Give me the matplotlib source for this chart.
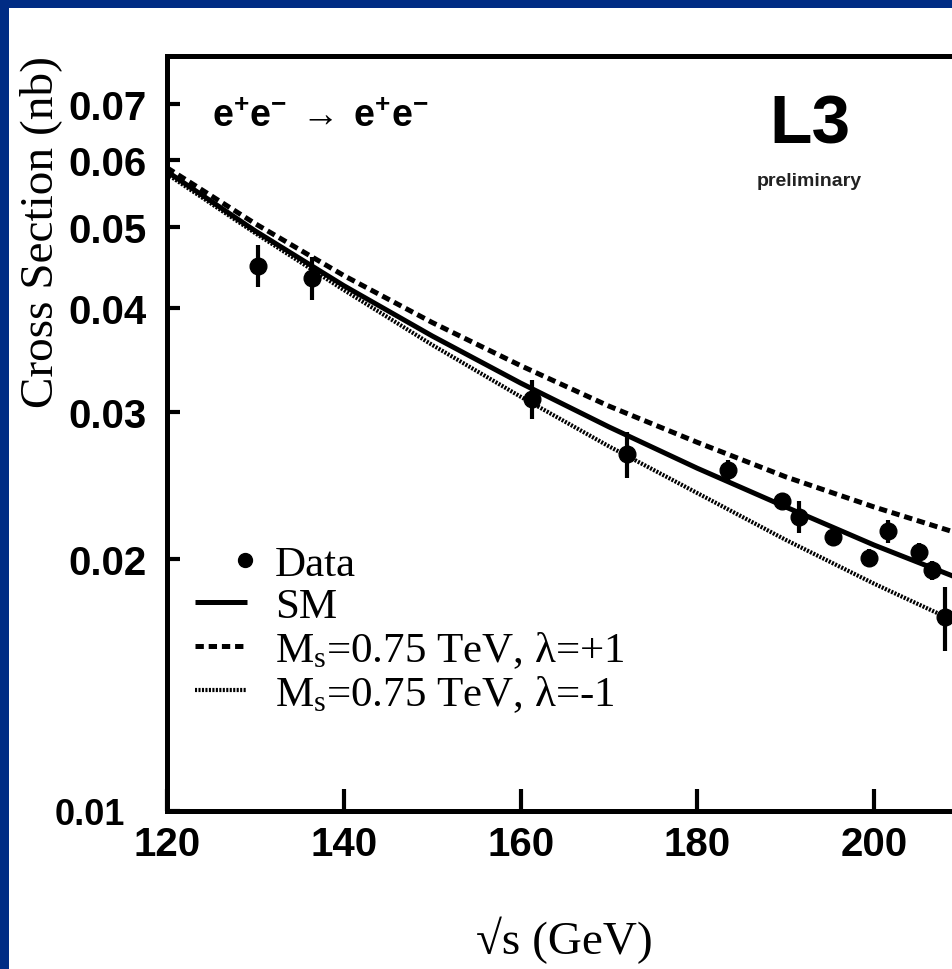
import numpy as np
import matplotlib
matplotlib.use("Agg")
import matplotlib.pyplot as plt
from matplotlib.patches import Rectangle
from matplotlib.legend_handler import HandlerLine2D
from matplotlib.ticker import FixedLocator, NullLocator, FixedFormatter

plt.rcParams['lines.scale_dashes'] = False
plt.rcParams['mathtext.fontset'] = 'custom'
plt.rcParams['mathtext.rm'] = 'Liberation Serif'
plt.rcParams['mathtext.it'] = 'Liberation Serif:italic'
plt.rcParams['mathtext.bf'] = 'Liberation Serif:bold'
plt.rcParams['mathtext.sf'] = 'Liberation Sans:bold'

# ---------------- data ----------------
data_sqrt_s = [130.3, 136.4, 161.3, 172.0, 183.5, 189.6, 191.5, 195.3, 199.4, 201.6, 205.1, 206.5, 208.0]
data_xsec   = [0.0449, 0.0434, 0.0311, 0.0267, 0.0256, 0.0235, 0.0225, 0.02125, 0.0201, 0.0216, 0.0204, 0.0194, 0.01705]
data_err    = [0.0026, 0.0026, 0.0017, 0.0017, 0.0007, 0.0005, 0.0010, 0.0005, 0.0005, 0.0007, 0.0005, 0.0005, 0.0015]

curve_sqrt_s = [120, 130, 140, 150, 160, 170, 180, 190, 200, 210]
sm_xsec      = [0.0582, 0.0494, 0.0425, 0.0370, 0.0325, 0.0288, 0.0257, 0.0231, 0.0208, 0.0189]
lam_plus     = [0.0588, 0.0504, 0.0437, 0.0384, 0.0341, 0.0305, 0.0276, 0.0251, 0.0231, 0.0214]
lam_minus    = [0.0578, 0.0491, 0.0420, 0.0361, 0.0313, 0.0273, 0.0240, 0.0211, 0.0187, 0.0167]

x_ticks = [120, 140, 160, 180, 200]
y_ticks = [0.01, 0.02, 0.03, 0.04, 0.05, 0.06, 0.07]
y_tick_labels = ['0.01', '0.02', '0.03', '0.04', '0.05', '0.06', '0.07']

labels = ['Data', 'SM', r'M$_{\mathrm{s}}$=0.75 TeV, λ=+1', r'M$_{\mathrm{s}}$=0.75 TeV, λ=-1']

# ---------------- figure ----------------
W, H = 953, 970
fig = plt.figure(figsize=(W / 100, H / 100), dpi=100, facecolor='#002C84')
fig.add_artist(Rectangle((9 / W, 0), 1, 1 - 9 / H, transform=fig.transFigure,
                         facecolor='white', edgecolor='none', zorder=-10))

xmin, xmax = 120, 210
px_per_gev = 8.84
ax_left, ax_top, ax_bottom = 167, 57, 812
aw = (xmax - xmin) * px_per_gev
ah = ax_bottom - ax_top
ax = fig.add_axes([ax_left / W, 1 - ax_bottom / H, aw / W, ah / H])
ax.set_facecolor('white')

ax.set_yscale('log')
ax.set_xlim(xmin, xmax)
ax.set_ylim(0.01, 0.08)

ax.plot(curve_sqrt_s, sm_xsec, color='black', lw=3.6, solid_capstyle='butt')
ax.plot(curve_sqrt_s, lam_plus, color='black', lw=3.6, dashes=(6, 3.5))
ax.plot(curve_sqrt_s, lam_minus, color='black', lw=3.0, dashes=(1.5, 1.0))
ax.errorbar(data_sqrt_s, data_xsec, yerr=data_err, fmt='o', color='black',
            ms=12, elinewidth=3, capsize=0, zorder=5)

# axes styling
for sp in ax.spines.values():
    sp.set_linewidth(3.6)
ax.xaxis.set_major_locator(FixedLocator(x_ticks))
ax.xaxis.set_minor_locator(NullLocator())
ax.yaxis.set_major_locator(FixedLocator(y_ticks))
ax.yaxis.set_major_formatter(FixedFormatter(y_tick_labels))
ax.yaxis.set_minor_locator(NullLocator())
ax.tick_params(axis='x', direction='in', length=16, width=3, pad=10, top=False,
               labelsize=29)
ax.tick_params(axis='y', direction='in', length=9, width=3, pad=15, right=False,
               labelsize=29)
for lab in ax.get_xticklabels() + ax.get_yticklabels():
    lab.set_fontfamily('Liberation Sans')
    lab.set_fontweight('bold')
ax.yaxis.get_major_ticks()[0].set_pad(30)
ax.get_yticklabels()[0].set_fontsize(26)

ax.set_xlabel('√s (GeV)', fontfamily='Liberation Serif', fontsize=34, va='center')
ax.xaxis.set_label_coords(0.5, (ax_bottom - 940) / ah)
ax.set_ylabel('Cross Section (nb)', fontfamily='Liberation Serif', fontsize=34, va='center')
ax.yaxis.set_label_coords((41 - ax_left) / aw, (ax_bottom - 232) / ah)

# annotations
ax.text((212 - ax_left) / aw, (ax_bottom - 127) / ah,
        r'$\mathsf{e^{+}e^{-}}\ \rightarrow\ \mathsf{e^{+}e^{-}}$',
        transform=ax.transAxes, fontsize=27, ha='left', va='baseline')
ax.text((810 - ax_left) / aw, (ax_bottom - 125) / ah, 'L3', transform=ax.transAxes,
        fontsize=50, fontfamily='Liberation Sans', fontweight='bold', ha='center', va='center')
ax.text((809 - ax_left) / aw, (ax_bottom - 181) / ah, 'preliminary', transform=ax.transAxes,
        fontsize=14, fontfamily='Liberation Sans', fontweight='bold', ha='center', va='center',
        color='#222222')

# legend
class RightMarker(HandlerLine2D):
    def get_xdata(self, legend, xdescent, ydescent, width, height, fontsize):
        xm = -xdescent + width * 0.96
        return np.array([xm, xm]), np.array([xm])

h_lines = ax.get_lines()
data_handle = plt.Line2D([], [], ls='none', marker='o', color='black', ms=10)
handles = [data_handle, h_lines[0], h_lines[1], h_lines[2]]
leg = ax.legend(handles, labels, loc='upper left',
                bbox_to_anchor=((195 - ax_left) / aw, (ax_bottom - 546) / ah),
                frameon=False, borderpad=0, borderaxespad=0, handlelength=1.21,
                handletextpad=0.65, labelspacing=0.07,
                prop={'family': 'Liberation Serif', 'size': 31},
                handler_map={data_handle: RightMarker(numpoints=1)})

fig.savefig('out.png', dpi=100, facecolor=fig.get_facecolor())
